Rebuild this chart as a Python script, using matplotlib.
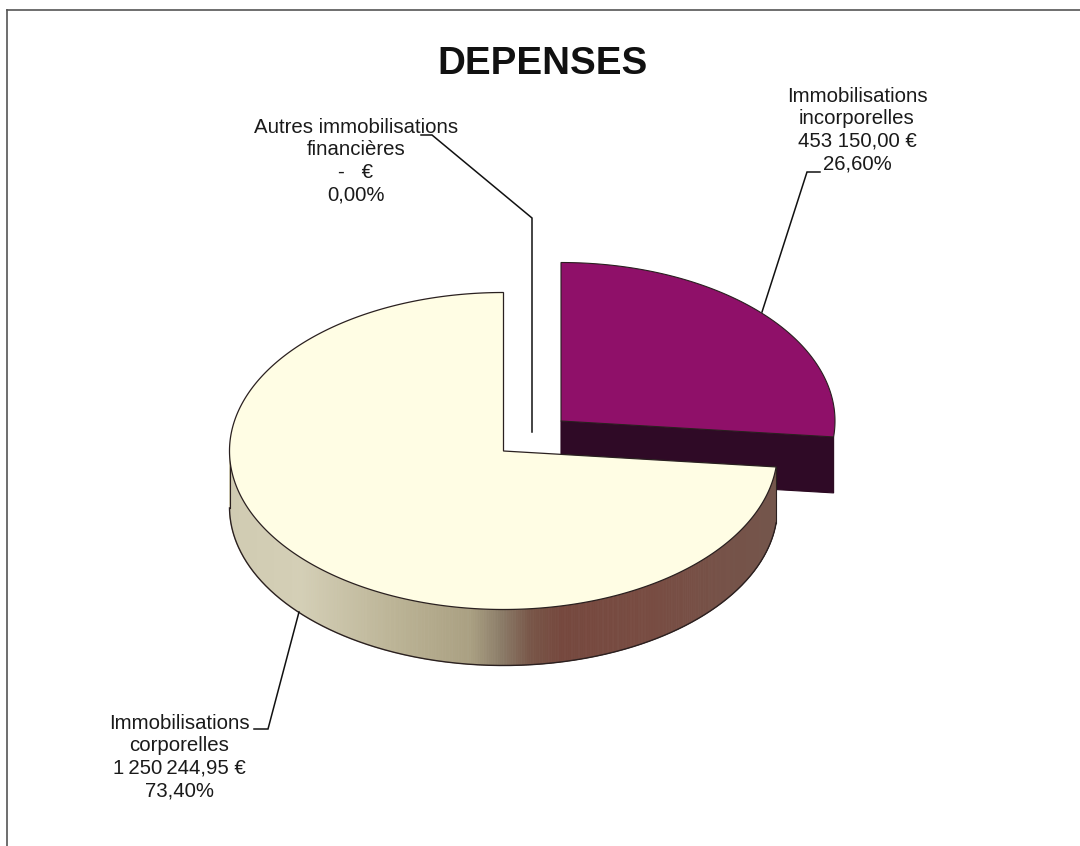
import numpy as np
import matplotlib
matplotlib.use("Agg")
import matplotlib.pyplot as plt
from matplotlib.patches import Polygon

plt.rcParams['font.family'] = ['Liberation Sans', 'DejaVu Sans']

title = "DEPENSES"
categories = ["Immobilisations\nincorporelles", "Autres immobilisations\nfinancières", "Immobilisations\ncorporelles"]
values = [453150.00, 0.0, 1250244.95]
value_labels = ["453 150,00 €", "-   €", "1\u2009250\u2009244,95 €"]
pct_labels = ["26,60%", "0,00%", "73,40%"]

W, H = 1080, 846
fig = plt.figure(figsize=(W/100, H/100), dpi=100, facecolor='white')
ax = fig.add_axes([0, 0, 1, 1])
ax.set_xlim(0, W); ax.set_ylim(H, 0); ax.axis('off')

RX, RY, DEPTH = 274, 158.5, 56
CENTER_MAIN = (503.5, 451)
CENTER_EXPL = (561, 421)
total = sum(values)
angles = np.cumsum([0] + values) / total * 2 * np.pi

def rim(c, t):
    return c[0] + RX*np.sin(t), c[1] - RY*np.cos(t)

LINE = '#2a2020'
# exploded slice
t = np.linspace(angles[0], angles[1], 200)
x, y = rim(CENTER_EXPL, t)
c = CENTER_EXPL
ex, ey = x[-1], y[-1]
ax.add_patch(Polygon([(c[0], c[1]), (ex, ey), (ex, ey+DEPTH), (c[0], c[1]+DEPTH)],
                     fc='#2f0a26', ec='#2a0820', lw=0.8, zorder=2))
ax.add_patch(Polygon(np.r_[[c], np.c_[x, y]], fc='#8f1069', ec=LINE, lw=0.8, zorder=3))

# main slice: wall gradient
stops_x = [229, 300, 400, 470, 500, 530, 560, 650, 777]
stops_rgb = np.array([(208,203,178),(212,207,182),(186,178,148),(170,160,130),
                      (140,125,105),(120,86,72),(118,72,62),(120,76,66),(116,86,76)])/255
c = CENTER_MAIN
t = np.linspace(angles[2], angles[3], 700)
x, y = rim(c, t)
wall = np.where((t > np.pi*0.5) & (t < np.pi*1.5))[0]
for i in range(wall[0], wall[-1]):
    xm = (x[i]+x[i+1])/2
    col = [np.interp(xm, stops_x, stops_rgb[:, k]) for k in range(3)]
    ax.add_patch(Polygon([(x[i], y[i]), (x[i+1], y[i+1]), (x[i+1], y[i+1]+DEPTH), (x[i], y[i]+DEPTH)],
                         fc=col, ec=col, lw=0.6, zorder=4))
ax.plot(x[wall], y[wall]+DEPTH, color=LINE, lw=1.0, zorder=5)
ax.plot([x[wall[0]], x[wall[0]]], [y[wall[0]], y[wall[0]]+DEPTH], color=LINE, lw=0.8, zorder=5)
ax.plot([x[wall[-1]], x[wall[-1]]], [y[wall[-1]], y[wall[-1]]+DEPTH], color=LINE, lw=0.8, zorder=5)
ax.add_patch(Polygon(np.r_[[c], np.c_[x, y]], fc='#fffde4', ec=LINE, lw=0.9, zorder=6))

# frame
ax.plot([7, 7], [H, 10], color='#555555', lw=1.2, zorder=1)
ax.plot([7, W], [10, 10], color='#555555', lw=1.2, zorder=1)

# leaders
for lx, ly in [([421, 432, 532, 532], [135, 135, 218, 432]),
               ([820, 807, 762], [172, 172, 312]),
               ([254, 268, 299], [729, 729, 612])]:
    ax.plot(lx, ly, color='#111111', lw=1.1, zorder=7, solid_joinstyle='miter')

# text
ax.text(542, 64, title, ha='center', va='center', fontsize=27.7, fontweight='bold', color='#111111')
positions = [(857, 130), (356, 161), (179, 757)]
for cat, val, pct, (px, py) in zip(categories, value_labels, pct_labels, positions):
    ax.text(px, py, f"{cat}\n{val}\n{pct}", ha='center', va='center', fontsize=14.7,
            color='#1a1a1a', linespacing=1.24, zorder=8)

fig.savefig('out.png', dpi=100, facecolor='white')
